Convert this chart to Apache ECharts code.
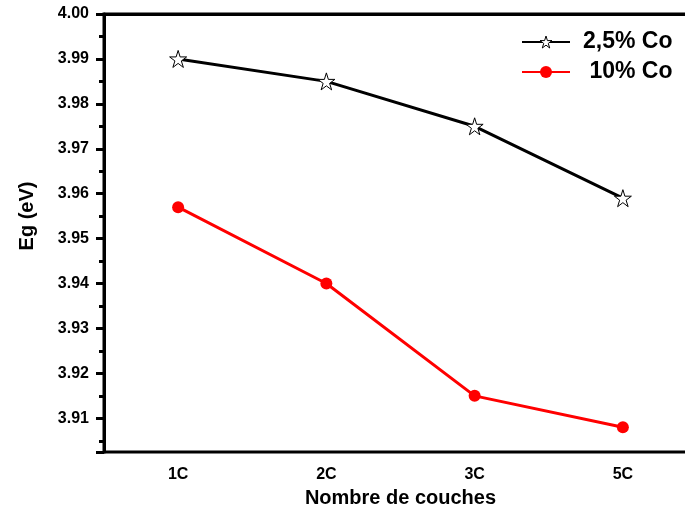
<!DOCTYPE html>
<html>
<head>
<meta charset="utf-8">
<script src="https://cdn.jsdelivr.net/npm/echarts@6/dist/echarts.min.js"></script>
<style>html,body{margin:0;padding:0;background:#fff;}#c{width:685px;height:508px;}</style>
</head>
<body>
<div id="c"></div>
<script>
const categories = ['1C', '2C', '3C', '5C'];
const co25 = [3.990, 3.985, 3.975, 3.959];
const co10 = [3.957, 3.940, 3.915, 3.908];
const seriesNames = ['2,5% Co', ' 10% Co'];
const yMin = 3.9025, yMax = 4.00;

const FONT = "'Liberation Sans', Arial, sans-serif";
const star = 'path://M50 0 L61.17 34.63 L97.55 34.55 L68.07 55.87 L79.39 90.45 L50 69 L20.61 90.45 L31.93 55.87 L2.45 34.55 L38.83 34.63 Z';

const chart = echarts.init(document.getElementById('c'), null, {renderer: 'canvas'});
chart.setOption({
  animation: false,
  backgroundColor: '#fff',
  grid: {left: 104, width: 593, top: 14, height: 438, show: true, borderColor: '#000', borderWidth: 3,
         containLabel: false, outerBoundsMode: 'none'},
  legend: {
    orient: 'vertical', left: 516, top: 25, itemWidth: 48, itemHeight: 15, itemGap: 6,
    data: [
      {name: seriesNames[0], itemStyle: {color: '#fff', borderColor: '#000', borderWidth: 1}},
      {name: seriesNames[1]}
    ],
    textStyle: {fontFamily: FONT, fontWeight: 'bold', fontSize: 23, color: '#000', lineHeight: 24, padding: [0,0,0,8]}
  },
  xAxis: [{
    type: 'category', data: categories, position: 'bottom', boundaryGap: true,
    axisLine: {lineStyle: {color: '#000', width: 3}},
    axisTick: {alignWithLabel: true, length: 8, lineStyle: {color: '#000', width: 3}},
    axisLabel: {margin: 15, fontFamily: FONT, fontWeight: 'bold', fontSize: 16, color: '#000'},
    splitLine: {show: false},
    name: 'Nombre de couches', nameLocation: 'middle', nameGap: 36,
    nameTextStyle: {fontFamily: FONT, fontWeight: 'bold', fontSize: 20, color: '#000'}
  }, {
    type: 'category', data: categories, position: 'bottom', boundaryGap: true,
    axisLine: {show: false},
    axisTick: {length: 5, lineStyle: {color: '#000', width: 3}},
    axisLabel: {show: false}, splitLine: {show: false}
  }],
  yAxis: [{
    type: 'value', min: yMin, max: yMax, splitNumber: 10, position: 'left',
    axisLine: {show: true, lineStyle: {color: '#000', width: 3}},
    axisTick: {show: true, length: 8, lineStyle: {color: '#000', width: 3}},
    axisLabel: {
      margin: 15, fontFamily: FONT, fontWeight: 'bold', fontSize: 16, color: '#000',
      formatter: v => (Math.abs(v * 100 - Math.round(v * 100)) < 1e-6 && v > 3.905) ? v.toFixed(2) : ''
    },
    splitLine: {show: false},
    name: 'Eg (eV)', nameLocation: 'middle', nameGap: 67, nameRotate: 90,
    nameTextStyle: {fontFamily: FONT, fontWeight: 'bold', fontSize: 20, color: '#000', padding: [0,0,0,34]}
  }, {
    type: 'value', min: 0, max: (yMax - yMin) / 0.005, interval: 1, inverse: true, position: 'left',
    axisLine: {show: false},
    axisTick: {show: true, length: 5, lineStyle: {color: '#000', width: 3}},
    axisLabel: {show: false}, splitLine: {show: false}
  }],
  series: [{
    name: seriesNames[0], type: 'line', data: co25, xAxisIndex: 0, yAxisIndex: 0,
    symbol: star, symbolSize: 17, showAllSymbol: true,
    lineStyle: {color: '#000', width: 3},
    itemStyle: {color: '#fff', borderColor: '#000', borderWidth: 1}
  }, {
    name: seriesNames[1], type: 'line', data: co10, xAxisIndex: 0, yAxisIndex: 0,
    symbol: 'circle', symbolSize: 12,
    lineStyle: {color: '#ff0000', width: 3},
    itemStyle: {color: '#ff0000'}
  }]
});
</script>
</body>
</html>
